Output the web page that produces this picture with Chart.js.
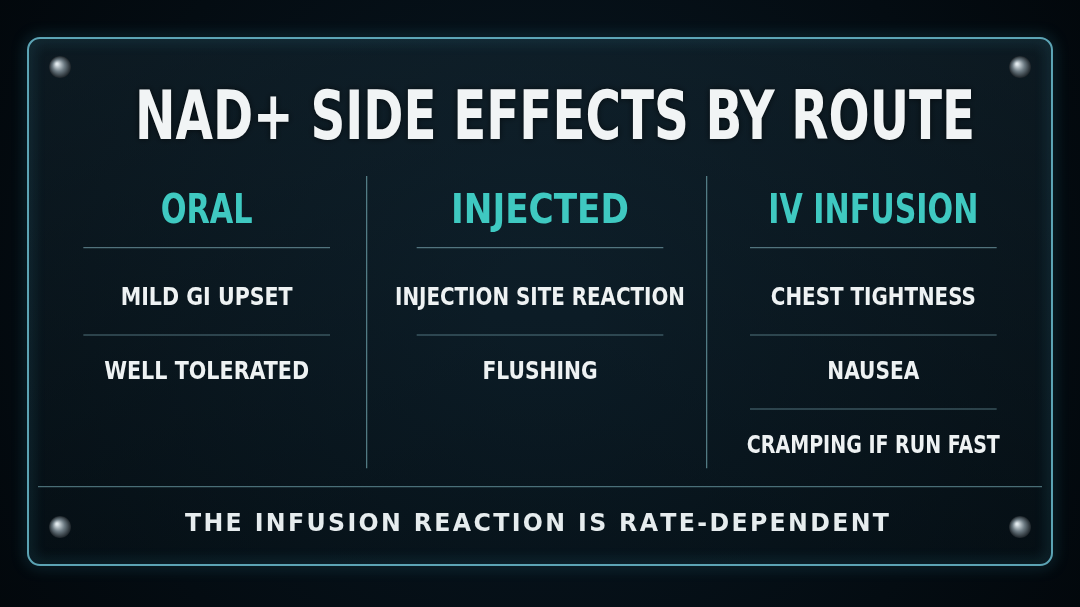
<!DOCTYPE html>
<html>
<head>
<meta charset="utf-8">
<script src="https://cdn.jsdelivr.net/npm/chart.js@4.4.1/dist/chart.umd.min.js"></script>
<style>
  html, body { margin: 0; padding: 0; background: #050b12; }
  #wrap { width: 1080px; height: 607px; }
</style>
</head>
<body>
<div id="wrap"><canvas id="chart" width="1080" height="607"></canvas></div>
<script>
const chartTitle = 'NAD+ SIDE EFFECTS BY ROUTE';
const footerText = 'THE INFUSION REACTION IS RATE-DEPENDENT';
const routes = ['ORAL', 'INJECTED', 'IV INFUSION'];
const oralEffects = ['MILD GI UPSET', 'WELL TOLERATED'];
const injectedEffects = ['INJECTION SITE REACTION', 'FLUSHING'];
const ivEffects = ['CHEST TIGHTNESS', 'NAUSEA', 'CRAMPING IF RUN FAST'];

// text widths seen in the picture (px), used to fit the condensed lettering
const headerWidths = [92, 178, 210];
const effectWidths = [[172, 205], [290, 115], [205, 92, 253]];

const effectLists = [oralEffects, injectedEffects, ivEffects];
const points = [];
effectLists.forEach((list, col) => {
    list.forEach((text, row) => {
        points.push({ x: col, y: row, label: text, w: effectWidths[col][row] });
    });
});

function fitText(ctx, text, x, y, width) {
    const w = ctx.measureText(text).width;
    ctx.save();
    ctx.translate(x, y);
    ctx.scale(width / w, 1);
    ctx.fillText(text, 0, 0);
    ctx.restore();
}

function roundRect(ctx, x, y, w, h, r) {
    ctx.beginPath();
    ctx.moveTo(x + r, y);
    ctx.arcTo(x + w, y, x + w, y + h, r);
    ctx.arcTo(x + w, y + h, x, y + h, r);
    ctx.arcTo(x, y + h, x, y, r);
    ctx.arcTo(x, y, x + w, y, r);
    ctx.closePath();
}

const boardPlugin = {
    id: 'board',
    beforeDraw(chart) {
        const ctx = chart.ctx;
        const W = chart.width, H = chart.height;
        const bg = ctx.createRadialGradient(W / 2, H / 2, 50, W / 2, H / 2, 650);
        bg.addColorStop(0, '#081620');
        bg.addColorStop(1, '#02070b');
        ctx.fillStyle = bg;
        ctx.fillRect(0, 0, W, H);

        // glass panel
        ctx.save();
        roundRect(ctx, 28, 38, 1024, 527, 12);
        const glass = ctx.createLinearGradient(0, 38, 0, 565);
        glass.addColorStop(0, 'rgba(30,55,68,0.35)');
        glass.addColorStop(1, 'rgba(10,25,32,0.35)');
        ctx.fillStyle = glass;
        ctx.fill();
        ctx.shadowColor = 'rgba(80,200,230,0.8)';
        ctx.shadowBlur = 14;
        ctx.strokeStyle = 'rgba(120,210,230,0.75)';
        ctx.lineWidth = 2;
        ctx.stroke();
        ctx.restore();

        // screws
        [[60, 67], [1020, 67], [60, 527], [1020, 527]].forEach(([sx, sy]) => {
            const g = ctx.createRadialGradient(sx - 3, sy - 3, 1, sx, sy, 11);
            g.addColorStop(0, '#e0e8ec');
            g.addColorStop(0.5, '#6d7b83');
            g.addColorStop(1, '#1c2328');
            ctx.fillStyle = g;
            ctx.beginPath();
            ctx.arc(sx, sy, 11, 0, Math.PI * 2);
            ctx.fill();
        });
    },
    afterDatasetsDraw(chart) {
        const ctx = chart.ctx;
        const xs = chart.scales.x, ys = chart.scales.y;
        const cx = chart.width / 2;

        ctx.save();
        ctx.textAlign = 'left';
        ctx.textBaseline = 'middle';

        // title
        ctx.font = 'bold 68px "DejaVu Sans Condensed", "DejaVu Sans"';
        ctx.fillStyle = '#f1f4f5';
        ctx.shadowColor = 'rgba(0,0,0,0.6)';
        ctx.shadowBlur = 6;
        fitText(ctx, chartTitle, cx - 405, ys.getPixelForValue(-2.39), 840);
        ctx.shadowBlur = 0;

        // separators
        ctx.strokeStyle = 'rgba(140,190,200,0.55)';
        ctx.lineWidth = 1.2;
        const half = 0.37;
        routes.forEach((r, col) => {
            const x0 = xs.getPixelForValue(col - half), x1 = xs.getPixelForValue(col + half);
            const lines = [-0.68];
            for (let i = 0; i < effectLists[col].length - 1; i++) lines.push(i + 0.5);
            lines.forEach(v => {
                const y = ys.getPixelForValue(v);
                ctx.beginPath(); ctx.moveTo(x0, y); ctx.lineTo(x1, y); ctx.stroke();
            });
        });
        ctx.strokeStyle = 'rgba(140,200,210,0.6)';
        [0.48, 1.5].forEach(v => {
            const x = xs.getPixelForValue(v);
            ctx.beginPath();
            ctx.moveTo(x, ys.getPixelForValue(-1.65));
            ctx.lineTo(x, ys.getPixelForValue(2.3));
            ctx.stroke();
        });
        const by = ys.getPixelForValue(2.55);
        ctx.strokeStyle = 'rgba(140,200,210,0.5)';
        ctx.beginPath(); ctx.moveTo(38, by); ctx.lineTo(1042, by); ctx.stroke();

        // headers
        ctx.font = 'bold 40px "DejaVu Sans Condensed", "DejaVu Sans"';
        ctx.fillStyle = '#3fc9c1';
        routes.forEach((r, col) => {
            fitText(ctx, r, xs.getPixelForValue(col) - headerWidths[col] / 2, ys.getPixelForValue(-1.15), headerWidths[col]);
        });

        // effects, placed at the dataset's points
        ctx.font = 'bold 25px "DejaVu Sans Condensed", "DejaVu Sans"';
        ctx.fillStyle = '#eef2f3';
        const meta = chart.getDatasetMeta(0);
        meta.data.forEach((el, i) => {
            const p = points[i];
            fitText(ctx, p.label, el.x - p.w / 2, el.y, p.w);
        });

        // footer
        ctx.font = 'bold 24px "DejaVu Sans", sans-serif';
        ctx.fillStyle = '#e6ecee';
        fitText(ctx, footerText.split('').join('\u200A'), cx - 355, ys.getPixelForValue(3.06), 704);
        ctx.restore();
    }
};

new Chart(document.getElementById('chart').getContext('2d'), {
    type: 'scatter',
    data: {
        datasets: [{
            label: 'effects',
            data: points,
            pointRadius: 0,
            pointHoverRadius: 0
        }]
    },
    options: {
        responsive: false,
        animation: false,
        events: [],
        layout: { padding: { left: 40, right: 40, top: 150, bottom: 87 } },
        plugins: { legend: { display: false }, tooltip: { enabled: false } },
        scales: {
            x: { type: 'linear', min: -0.5, max: 2.5, display: false },
            y: { type: 'linear', min: -2, max: 3, reverse: true, display: false }
        }
    },
    plugins: [boardPlugin]
});
</script>
</body>
</html>
